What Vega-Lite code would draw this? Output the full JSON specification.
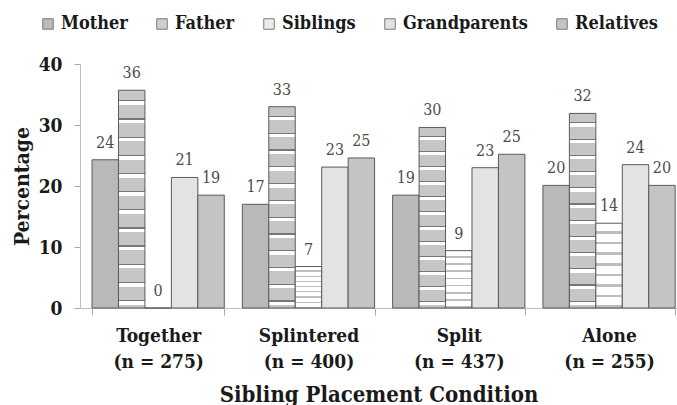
{
  "$schema": "https://vega.github.io/schema/vega-lite/v6.json",
  "width": 597,
  "height": 244,
  "autosize": {"type": "none"},
  "padding": {"left": 80, "top": 64, "right": 0, "bottom": 97},
  "background": "white",
  "config": {"font": "DejaVu Serif Condensed, Liberation Serif, serif", "view": {"stroke": null}},
  "data": {
    "values": [
      {"condition": "Together (n = 275)", "member": "Mother", "pct": 24.3, "label": 24},
      {"condition": "Together (n = 275)", "member": "Father", "pct": 35.7, "label": 36},
      {"condition": "Together (n = 275)", "member": "Siblings", "pct": 0, "label": 0},
      {"condition": "Together (n = 275)", "member": "Grandparents", "pct": 21.4, "label": 21},
      {"condition": "Together (n = 275)", "member": "Relatives", "pct": 18.5, "label": 19},
      {"condition": "Splintered (n = 400)", "member": "Mother", "pct": 17.0, "label": 17},
      {"condition": "Splintered (n = 400)", "member": "Father", "pct": 33.0, "label": 33},
      {"condition": "Splintered (n = 400)", "member": "Siblings", "pct": 6.8, "label": 7},
      {"condition": "Splintered (n = 400)", "member": "Grandparents", "pct": 23.1, "label": 23},
      {"condition": "Splintered (n = 400)", "member": "Relatives", "pct": 24.6, "label": 25},
      {"condition": "Split (n = 437)", "member": "Mother", "pct": 18.5, "label": 19},
      {"condition": "Split (n = 437)", "member": "Father", "pct": 29.6, "label": 30},
      {"condition": "Split (n = 437)", "member": "Siblings", "pct": 9.4, "label": 9},
      {"condition": "Split (n = 437)", "member": "Grandparents", "pct": 23.0, "label": 23},
      {"condition": "Split (n = 437)", "member": "Relatives", "pct": 25.2, "label": 25},
      {"condition": "Alone (n = 255)", "member": "Mother", "pct": 20.1, "label": 20},
      {"condition": "Alone (n = 255)", "member": "Father", "pct": 31.9, "label": 32},
      {"condition": "Alone (n = 255)", "member": "Siblings", "pct": 13.9, "label": 14},
      {"condition": "Alone (n = 255)", "member": "Grandparents", "pct": 23.5, "label": 24},
      {"condition": "Alone (n = 255)", "member": "Relatives", "pct": 20.1, "label": 20}
    ]
  },
  "encoding": {
    "x": {
      "field": "condition",
      "type": "nominal",
      "sort": ["Together (n = 275)", "Splintered (n = 400)", "Split (n = 437)", "Alone (n = 255)"],
      "scale": {"paddingInner": 0.12, "paddingOuter": 0.046, "align": 0.87},
      "title": "Sibling Placement Condition",
      "axis": {
        "labelAngle": 0,
        "tickBand": "extent",
        "tickSize": 7,
        "domainColor": "#bfbfbf",
        "tickColor": "#a8a8a8",
        "labelFontSize": 19,
        "labelFontWeight": "bold",
        "labelColor": "#1a1a1a",
        "labelLineHeight": 26,
        "labelPadding": 11,
        "labelExpr": "isString(datum.value) ? [split(datum.value, ' (')[0], '(' + split(datum.value, ' (')[1]] : ''",
        "titleFontSize": 22,
        "titleFontWeight": "bold",
        "titleColor": "#1a1a1a",
        "titlePadding": 13
      }
    },
    "xOffset": {
      "field": "member",
      "type": "nominal",
      "sort": ["Mother", "Father", "Siblings", "Grandparents", "Relatives"]
    },
    "y": {
      "field": "pct",
      "type": "quantitative",
      "scale": {"domain": [0, 40]},
      "title": "Percentage",
      "axis": {
        "values": [0, 10, 20, 30, 40],
        "grid": false,
        "tickSize": 6,
        "domainColor": "#bfbfbf",
        "tickColor": "#a8a8a8",
        "labelFontSize": 19,
        "labelFontWeight": "bold",
        "labelColor": "#1a1a1a",
        "labelPadding": 12,
        "titleFontSize": 21,
        "titleFontWeight": "bold",
        "titleColor": "#1a1a1a",
        "titleX": -48,
        "titleY": 122
      }
    }
  },
  "layer": [
    {
      "mark": {"type": "bar", "stroke": "#5a5a5a", "strokeWidth": 1},
      "encoding": {
        "fill": {
          "condition": [
            {"test": "datum.member == 'Father'", "value": {"gradient": "linear", "x1": 0, "y1": 0, "x2": 0, "y2": 1, "stops": [
                {"offset": 0, "color": "#c6c6c6"},
                {"offset": 0.0458, "color": "#c6c6c6"}, {"offset": 0.0458, "color": "#777777"}, {"offset": 0.0517, "color": "#777777"}, {"offset": 0.0517, "color": "#ffffff"}, {"offset": 0.0683, "color": "#ffffff"}, {"offset": 0.0683, "color": "#c6c6c6"},
                {"offset": 0.1292, "color": "#c6c6c6"}, {"offset": 0.1292, "color": "#777777"}, {"offset": 0.135, "color": "#777777"}, {"offset": 0.135, "color": "#ffffff"}, {"offset": 0.1517, "color": "#ffffff"}, {"offset": 0.1517, "color": "#c6c6c6"},
                {"offset": 0.2125, "color": "#c6c6c6"}, {"offset": 0.2125, "color": "#777777"}, {"offset": 0.2183, "color": "#777777"}, {"offset": 0.2183, "color": "#ffffff"}, {"offset": 0.235, "color": "#ffffff"}, {"offset": 0.235, "color": "#c6c6c6"},
                {"offset": 0.2958, "color": "#c6c6c6"}, {"offset": 0.2958, "color": "#777777"}, {"offset": 0.3017, "color": "#777777"}, {"offset": 0.3017, "color": "#ffffff"}, {"offset": 0.3183, "color": "#ffffff"}, {"offset": 0.3183, "color": "#c6c6c6"},
                {"offset": 0.3792, "color": "#c6c6c6"}, {"offset": 0.3792, "color": "#777777"}, {"offset": 0.385, "color": "#777777"}, {"offset": 0.385, "color": "#ffffff"}, {"offset": 0.4017, "color": "#ffffff"}, {"offset": 0.4017, "color": "#c6c6c6"},
                {"offset": 0.4625, "color": "#c6c6c6"}, {"offset": 0.4625, "color": "#777777"}, {"offset": 0.4683, "color": "#777777"}, {"offset": 0.4683, "color": "#ffffff"}, {"offset": 0.485, "color": "#ffffff"}, {"offset": 0.485, "color": "#c6c6c6"},
                {"offset": 0.5458, "color": "#c6c6c6"}, {"offset": 0.5458, "color": "#777777"}, {"offset": 0.5517, "color": "#777777"}, {"offset": 0.5517, "color": "#ffffff"}, {"offset": 0.5683, "color": "#ffffff"}, {"offset": 0.5683, "color": "#c6c6c6"},
                {"offset": 0.6292, "color": "#c6c6c6"}, {"offset": 0.6292, "color": "#777777"}, {"offset": 0.635, "color": "#777777"}, {"offset": 0.635, "color": "#ffffff"}, {"offset": 0.6517, "color": "#ffffff"}, {"offset": 0.6517, "color": "#c6c6c6"},
                {"offset": 0.7125, "color": "#c6c6c6"}, {"offset": 0.7125, "color": "#777777"}, {"offset": 0.7183, "color": "#777777"}, {"offset": 0.7183, "color": "#ffffff"}, {"offset": 0.735, "color": "#ffffff"}, {"offset": 0.735, "color": "#c6c6c6"},
                {"offset": 0.7958, "color": "#c6c6c6"}, {"offset": 0.7958, "color": "#777777"}, {"offset": 0.8017, "color": "#777777"}, {"offset": 0.8017, "color": "#ffffff"}, {"offset": 0.8183, "color": "#ffffff"}, {"offset": 0.8183, "color": "#c6c6c6"},
                {"offset": 0.8792, "color": "#c6c6c6"}, {"offset": 0.8792, "color": "#777777"}, {"offset": 0.885, "color": "#777777"}, {"offset": 0.885, "color": "#ffffff"}, {"offset": 0.9017, "color": "#ffffff"}, {"offset": 0.9017, "color": "#c6c6c6"},
                {"offset": 0.9625, "color": "#c6c6c6"}, {"offset": 0.9625, "color": "#777777"}, {"offset": 0.9683, "color": "#777777"}, {"offset": 0.9683, "color": "#ffffff"}, {"offset": 0.985, "color": "#ffffff"}, {"offset": 0.985, "color": "#c6c6c6"},
                {"offset": 1, "color": "#c6c6c6"}
              ]}},
            {"test": "datum.member == 'Siblings'", "value": {"gradient": "linear", "x1": 0, "y1": 0, "x2": 0, "y2": 1, "stops": [
                {"offset": 0, "color": "#ffffff"},
                {"offset": 0.0938, "color": "#ffffff"}, {"offset": 0.0938, "color": "#bdbdbd"}, {"offset": 0.125, "color": "#bdbdbd"}, {"offset": 0.125, "color": "#ffffff"},
                {"offset": 0.2188, "color": "#ffffff"}, {"offset": 0.2188, "color": "#bdbdbd"}, {"offset": 0.25, "color": "#bdbdbd"}, {"offset": 0.25, "color": "#ffffff"},
                {"offset": 0.3438, "color": "#ffffff"}, {"offset": 0.3438, "color": "#bdbdbd"}, {"offset": 0.375, "color": "#bdbdbd"}, {"offset": 0.375, "color": "#ffffff"},
                {"offset": 0.4688, "color": "#ffffff"}, {"offset": 0.4688, "color": "#bdbdbd"}, {"offset": 0.5, "color": "#bdbdbd"}, {"offset": 0.5, "color": "#ffffff"},
                {"offset": 0.5938, "color": "#ffffff"}, {"offset": 0.5938, "color": "#bdbdbd"}, {"offset": 0.625, "color": "#bdbdbd"}, {"offset": 0.625, "color": "#ffffff"},
                {"offset": 0.7188, "color": "#ffffff"}, {"offset": 0.7188, "color": "#bdbdbd"}, {"offset": 0.75, "color": "#bdbdbd"}, {"offset": 0.75, "color": "#ffffff"},
                {"offset": 0.8438, "color": "#ffffff"}, {"offset": 0.8438, "color": "#bdbdbd"}, {"offset": 0.875, "color": "#bdbdbd"}, {"offset": 0.875, "color": "#ffffff"},
                {"offset": 0.9688, "color": "#ffffff"}, {"offset": 0.9688, "color": "#bdbdbd"}, {"offset": 1, "color": "#bdbdbd"}
              ]}}
          ],
          "field": "member",
          "type": "nominal",
          "scale": {
            "domain": ["Mother", "Father", "Siblings", "Grandparents", "Relatives"],
            "range": ["#b9b9b9", "#cfcfcf", "#ececec", "#e3e3e3", "#c4c4c4"]
          },
          "legend": {
            "orient": "none",
            "legendX": -41,
            "legendY": -49,
            "direction": "horizontal",
            "columns": 5,
            "columnPadding": 25,
            "title": null,
            "symbolType": "square",
            "symbolSize": 110,
            "symbolStrokeColor": "#7a7a7a",
            "symbolStrokeWidth": 1,
            "labelFontSize": 18,
            "labelFontWeight": "bold",
            "labelColor": "#1a1a1a",
            "labelOffset": 4
          }
        }
      }
    },
    {
      "mark": {"type": "text", "baseline": "alphabetic", "dy": -12, "fontSize": 16, "fontWeight": "normal", "fill": "#4d4d4d"},
      "encoding": {"text": {"field": "label", "type": "quantitative"}}
    }
  ]
}
